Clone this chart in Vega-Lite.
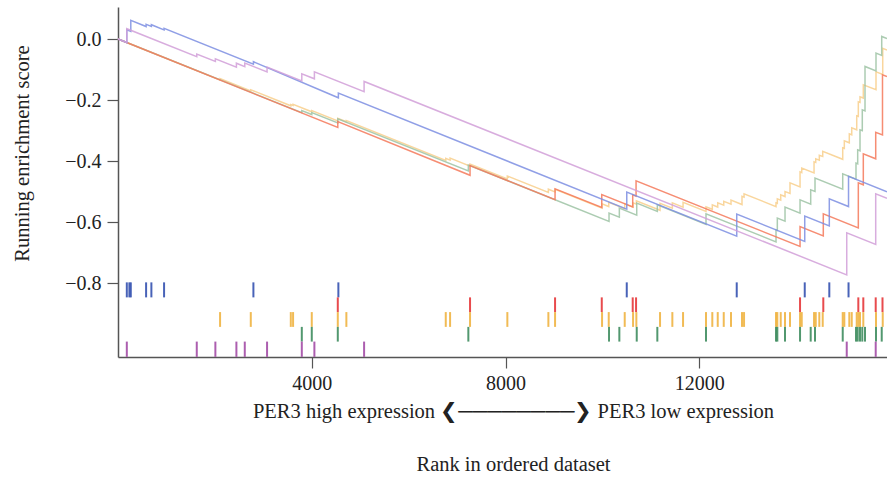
{
  "$schema": "https://vega.github.io/schema/vega-lite/v6.json",
  "width": 769,
  "height": 350,
  "autosize": {"type": "none"},
  "padding": {"left": 118, "top": 7, "right": 0, "bottom": 122},
  "config": {"font": "Liberation Serif", "view": {"stroke": null}},
  "datasets": {
    "lines": [
      {"s":"T","i":0,"x":0,"y":0},
      {"s":"T","i":1,"x":2107,"y":-0.1338},{"s":"T","i":2,"x":2107,"y":-0.1298},
      {"s":"T","i":3,"x":2741,"y":-0.1702},{"s":"T","i":4,"x":2741,"y":-0.1662},
      {"s":"T","i":5,"x":3567,"y":-0.2187},{"s":"T","i":6,"x":3567,"y":-0.2148},
      {"s":"T","i":7,"x":3614,"y":-0.2177},{"s":"T","i":8,"x":3614,"y":-0.2138},
      {"s":"T","i":9,"x":4000,"y":-0.2384},{"s":"T","i":10,"x":4000,"y":-0.2344},
      {"s":"T","i":11,"x":4537,"y":-0.2685},{"s":"T","i":12,"x":4537,"y":-0.2597},
      {"s":"T","i":13,"x":4714,"y":-0.2711},{"s":"T","i":14,"x":4714,"y":-0.2672},
      {"s":"T","i":15,"x":6766,"y":-0.3977},{"s":"T","i":16,"x":6766,"y":-0.3911},
      {"s":"T","i":17,"x":6855,"y":-0.3967},{"s":"T","i":18,"x":6855,"y":-0.3902},
      {"s":"T","i":19,"x":7267,"y":-0.4164},{"s":"T","i":20,"x":7267,"y":-0.4098},
      {"s":"T","i":21,"x":8037,"y":-0.4587},{"s":"T","i":22,"x":8037,"y":-0.4489},
      {"s":"T","i":23,"x":8884,"y":-0.5026},{"s":"T","i":24,"x":8884,"y":-0.4921},
      {"s":"T","i":25,"x":9022,"y":-0.5010},{"s":"T","i":26,"x":9022,"y":-0.4925},
      {"s":"T","i":27,"x":9992,"y":-0.5541},{"s":"T","i":28,"x":9992,"y":-0.5400},
      {"s":"T","i":29,"x":10130,"y":-0.5489},{"s":"T","i":30,"x":10130,"y":-0.5351},
      {"s":"T","i":31,"x":10460,"y":-0.5561},{"s":"T","i":32,"x":10460,"y":-0.5400},
      {"s":"T","i":33,"x":10632,"y":-0.5508},{"s":"T","i":34,"x":10632,"y":-0.5367},
      {"s":"T","i":35,"x":10700,"y":-0.5410},{"s":"T","i":36,"x":10700,"y":-0.5302},
      {"s":"T","i":37,"x":11189,"y":-0.5613},{"s":"T","i":38,"x":11189,"y":-0.5384},
      {"s":"T","i":39,"x":11443,"y":-0.5544},{"s":"T","i":40,"x":11443,"y":-0.5367},
      {"s":"T","i":41,"x":11664,"y":-0.5508},{"s":"T","i":42,"x":11664,"y":-0.5351},
      {"s":"T","i":43,"x":12138,"y":-0.5652},{"s":"T","i":44,"x":12138,"y":-0.5498},
      {"s":"T","i":45,"x":12268,"y":-0.5580},{"s":"T","i":46,"x":12268,"y":-0.5433},
      {"s":"T","i":47,"x":12380,"y":-0.5505},{"s":"T","i":48,"x":12380,"y":-0.5367},
      {"s":"T","i":49,"x":12504,"y":-0.5446},{"s":"T","i":50,"x":12504,"y":-0.5318},
      {"s":"T","i":51,"x":12654,"y":-0.5413},{"s":"T","i":52,"x":12654,"y":-0.5279},
      {"s":"T","i":53,"x":12881,"y":-0.5423},{"s":"T","i":54,"x":12881,"y":-0.5154},
      {"s":"T","i":55,"x":12923,"y":-0.5180},{"s":"T","i":56,"x":12923,"y":-0.5072},
      {"s":"T","i":57,"x":13583,"y":-0.5492},{"s":"T","i":58,"x":13583,"y":-0.5367},
      {"s":"T","i":59,"x":13610,"y":-0.5384},{"s":"T","i":60,"x":13610,"y":-0.5236},
      {"s":"T","i":61,"x":13680,"y":-0.5282},{"s":"T","i":62,"x":13680,"y":-0.5105},
      {"s":"T","i":63,"x":13769,"y":-0.5161},{"s":"T","i":64,"x":13769,"y":-0.4997},
      {"s":"T","i":65,"x":13872,"y":-0.5062},{"s":"T","i":66,"x":13872,"y":-0.4711},
      {"s":"T","i":67,"x":14079,"y":-0.4843},{"s":"T","i":68,"x":14079,"y":-0.4351},
      {"s":"T","i":69,"x":14114,"y":-0.4374},{"s":"T","i":70,"x":14114,"y":-0.4230},
      {"s":"T","i":71,"x":14368,"y":-0.4390},{"s":"T","i":72,"x":14368,"y":-0.4023},
      {"s":"T","i":73,"x":14403,"y":-0.4046},{"s":"T","i":74,"x":14403,"y":-0.3925},
      {"s":"T","i":75,"x":14477,"y":-0.3970},{"s":"T","i":76,"x":14477,"y":-0.3810},
      {"s":"T","i":77,"x":14547,"y":-0.3849},{"s":"T","i":78,"x":14547,"y":-0.3679},
      {"s":"T","i":79,"x":14960,"y":-0.3941},{"s":"T","i":80,"x":14960,"y":-0.3564},
      {"s":"T","i":81,"x":14993,"y":-0.3584},{"s":"T","i":82,"x":14993,"y":-0.3334},
      {"s":"T","i":83,"x":15096,"y":-0.3400},{"s":"T","i":84,"x":15096,"y":-0.3105},
      {"s":"T","i":85,"x":15146,"y":-0.3138},{"s":"T","i":86,"x":15146,"y":-0.2908},
      {"s":"T","i":87,"x":15249,"y":-0.2974},{"s":"T","i":88,"x":15249,"y":-0.2515},
      {"s":"T","i":89,"x":15282,"y":-0.2534},{"s":"T","i":90,"x":15282,"y":-0.2056},
      {"s":"T","i":91,"x":15317,"y":-0.2079},{"s":"T","i":92,"x":15317,"y":-0.1892},
      {"s":"T","i":93,"x":15385,"y":-0.1934},{"s":"T","i":94,"x":15385,"y":-0.1498},
      {"s":"T","i":95,"x":15647,"y":-0.1662},{"s":"T","i":96,"x":15647,"y":-0.1072},
      {"s":"T","i":97,"x":15786,"y":-0.1161},{"s":"T","i":98,"x":15786,"y":-0.0302},
      {"s":"T","i":99,"x":15874,"y":-0.0357},

      {"s":"G","i":0,"x":0,"y":0},
      {"s":"G","i":1,"x":3794,"y":-0.2410},{"s":"G","i":2,"x":3794,"y":-0.2344},
      {"s":"G","i":3,"x":4000,"y":-0.2475},{"s":"G","i":4,"x":4000,"y":-0.2410},
      {"s":"G","i":5,"x":4537,"y":-0.2751},{"s":"G","i":6,"x":4537,"y":-0.2613},
      {"s":"G","i":7,"x":7232,"y":-0.4325},{"s":"G","i":8,"x":7232,"y":-0.4128},
      {"s":"G","i":9,"x":10136,"y":-0.5974},{"s":"G","i":10,"x":10136,"y":-0.5705},
      {"s":"G","i":11,"x":10349,"y":-0.5839},{"s":"G","i":12,"x":10349,"y":-0.5541},
      {"s":"G","i":13,"x":10708,"y":-0.5770},{"s":"G","i":14,"x":10708,"y":-0.5377},
      {"s":"G","i":15,"x":11133,"y":-0.5646},{"s":"G","i":16,"x":11133,"y":-0.5433},
      {"s":"G","i":17,"x":12138,"y":-0.6072},{"s":"G","i":18,"x":12138,"y":-0.5728},
      {"s":"G","i":19,"x":13583,"y":-0.6646},{"s":"G","i":20,"x":13583,"y":-0.6252},
      {"s":"G","i":21,"x":13610,"y":-0.6269},{"s":"G","i":22,"x":13610,"y":-0.5869},
      {"s":"G","i":23,"x":13769,"y":-0.5970},{"s":"G","i":24,"x":13769,"y":-0.5508},
      {"s":"G","i":25,"x":14079,"y":-0.5705},{"s":"G","i":26,"x":14079,"y":-0.5269},
      {"s":"G","i":27,"x":14299,"y":-0.5410},{"s":"G","i":28,"x":14299,"y":-0.4941},
      {"s":"G","i":29,"x":14388,"y":-0.4997},{"s":"G","i":30,"x":14388,"y":-0.4557},
      {"s":"G","i":31,"x":14960,"y":-0.4921},{"s":"G","i":32,"x":14960,"y":-0.4416},
      {"s":"G","i":33,"x":15234,"y":-0.4590},{"s":"G","i":34,"x":15234,"y":-0.4066},
      {"s":"G","i":35,"x":15269,"y":-0.4089},{"s":"G","i":36,"x":15269,"y":-0.3630},
      {"s":"G","i":37,"x":15317,"y":-0.3662},{"s":"G","i":38,"x":15317,"y":-0.2974},
      {"s":"G","i":39,"x":15364,"y":-0.3003},{"s":"G","i":40,"x":15364,"y":-0.2318},
      {"s":"G","i":41,"x":15420,"y":-0.2354},{"s":"G","i":42,"x":15420,"y":-0.0898},
      {"s":"G","i":43,"x":15647,"y":-0.1043},{"s":"G","i":44,"x":15647,"y":-0.0459},
      {"s":"G","i":45,"x":15765,"y":-0.0534},{"s":"G","i":46,"x":15765,"y":0.0085},
      {"s":"G","i":47,"x":15874,"y":0.0016},

      {"s":"R","i":0,"x":0,"y":0},
      {"s":"R","i":1,"x":4537,"y":-0.2898},{"s":"R","i":2,"x":4537,"y":-0.2702},
      {"s":"R","i":3,"x":7267,"y":-0.4466},{"s":"R","i":4,"x":7267,"y":-0.4144},
      {"s":"R","i":5,"x":9022,"y":-0.5266},{"s":"R","i":6,"x":9022,"y":-0.4908},
      {"s":"R","i":7,"x":9986,"y":-0.5521},{"s":"R","i":8,"x":9986,"y":-0.5095},
      {"s":"R","i":9,"x":10625,"y":-0.5502},{"s":"R","i":10,"x":10625,"y":-0.5105},
      {"s":"R","i":11,"x":10694,"y":-0.5148},{"s":"R","i":12,"x":10694,"y":-0.4646},
      {"s":"R","i":13,"x":14079,"y":-0.6797},{"s":"R","i":14,"x":14079,"y":-0.6144},
      {"s":"R","i":15,"x":14559,"y":-0.6449},{"s":"R","i":16,"x":14559,"y":-0.5728},
      {"s":"R","i":17,"x":15282,"y":-0.6187},{"s":"R","i":18,"x":15282,"y":-0.4711},
      {"s":"R","i":19,"x":15385,"y":-0.4777},{"s":"R","i":20,"x":15385,"y":-0.3761},
      {"s":"R","i":21,"x":15641,"y":-0.3925},{"s":"R","i":22,"x":15641,"y":-0.3056},
      {"s":"R","i":23,"x":15781,"y":-0.3144},{"s":"R","i":24,"x":15781,"y":-0.1170},
      {"s":"R","i":25,"x":15874,"y":-0.1230},

      {"s":"B","i":0,"x":0,"y":0},
      {"s":"B","i":1,"x":182,"y":-0.0115},{"s":"B","i":2,"x":182,"y":0.0305},
      {"s":"B","i":3,"x":264,"y":0.0252},{"s":"B","i":4,"x":264,"y":0.0610},
      {"s":"B","i":5,"x":580,"y":0.0410},{"s":"B","i":6,"x":580,"y":0.0485},
      {"s":"B","i":7,"x":689,"y":0.0416},{"s":"B","i":8,"x":689,"y":0.0469},
      {"s":"B","i":9,"x":951,"y":0.0302},{"s":"B","i":10,"x":951,"y":0.0354},
      {"s":"B","i":11,"x":2795,"y":-0.0826},{"s":"B","i":12,"x":2795,"y":-0.0744},
      {"s":"B","i":13,"x":4549,"y":-0.1925},{"s":"B","i":14,"x":4549,"y":-0.1770},
      {"s":"B","i":15,"x":10502,"y":-0.5574},{"s":"B","i":16,"x":10502,"y":-0.5016},
      {"s":"B","i":17,"x":12772,"y":-0.6459},{"s":"B","i":18,"x":12772,"y":-0.5738},
      {"s":"B","i":19,"x":14176,"y":-0.6630},{"s":"B","i":20,"x":14176,"y":-0.5803},
      {"s":"B","i":21,"x":14683,"y":-0.6125},{"s":"B","i":22,"x":14683,"y":-0.5236},
      {"s":"B","i":23,"x":15080,"y":-0.5489},{"s":"B","i":24,"x":15080,"y":-0.4498},
      {"s":"B","i":25,"x":15874,"y":-0.5007},

      {"s":"P","i":0,"x":0,"y":0},
      {"s":"P","i":1,"x":182,"y":-0.0115},{"s":"P","i":2,"x":182,"y":0.0338},
      {"s":"P","i":3,"x":1626,"y":-0.0580},{"s":"P","i":4,"x":1626,"y":-0.0492},
      {"s":"P","i":5,"x":2010,"y":-0.0734},{"s":"P","i":6,"x":2010,"y":-0.0646},
      {"s":"P","i":7,"x":2444,"y":-0.0921},{"s":"P","i":8,"x":2444,"y":-0.0793},
      {"s":"P","i":9,"x":2617,"y":-0.0905},{"s":"P","i":10,"x":2617,"y":-0.0787},
      {"s":"P","i":11,"x":3077,"y":-0.1079},{"s":"P","i":12,"x":3077,"y":-0.0918},
      {"s":"P","i":13,"x":3794,"y":-0.1374},{"s":"P","i":14,"x":3794,"y":-0.1138},
      {"s":"P","i":15,"x":4054,"y":-0.1302},{"s":"P","i":16,"x":4054,"y":-0.1072},
      {"s":"P","i":17,"x":5080,"y":-0.1725},{"s":"P","i":18,"x":5080,"y":-0.1390},
      {"s":"P","i":19,"x":15043,"y":-0.7728},{"s":"P","i":20,"x":15043,"y":-0.6351},
      {"s":"P","i":21,"x":15641,"y":-0.6731},{"s":"P","i":22,"x":15641,"y":-0.5072},
      {"s":"P","i":23,"x":15874,"y":-0.5220}
    ],
    "hits": [
      {"s":"B","x":182},{"s":"B","x":235},{"s":"B","x":264},{"s":"B","x":580},{"s":"B","x":689},{"s":"B","x":951},{"s":"B","x":2795},{"s":"B","x":4549},{"s":"B","x":10502},{"s":"B","x":12772},{"s":"B","x":14176},{"s":"B","x":14683},{"s":"B","x":15080},
      {"s":"R","x":4537},{"s":"R","x":7267},{"s":"R","x":9022},{"s":"R","x":9986},{"s":"R","x":10625},{"s":"R","x":10694},{"s":"R","x":14079},{"s":"R","x":14559},{"s":"R","x":15282},{"s":"R","x":15385},{"s":"R","x":15641},{"s":"R","x":15781},
      {"s":"T","x":2107},{"s":"T","x":2741},{"s":"T","x":3567},{"s":"T","x":3614},{"s":"T","x":4000},{"s":"T","x":4537},{"s":"T","x":4714},{"s":"T","x":6766},{"s":"T","x":6855},{"s":"T","x":7267},{"s":"T","x":8037},{"s":"T","x":8884},{"s":"T","x":9022},{"s":"T","x":9992},{"s":"T","x":10130},{"s":"T","x":10460},{"s":"T","x":10632},{"s":"T","x":10700},{"s":"T","x":11189},{"s":"T","x":11443},{"s":"T","x":11664},{"s":"T","x":12138},{"s":"T","x":12268},{"s":"T","x":12380},{"s":"T","x":12504},{"s":"T","x":12654},{"s":"T","x":12881},{"s":"T","x":12923},{"s":"T","x":13583},{"s":"T","x":13610},{"s":"T","x":13680},{"s":"T","x":13769},{"s":"T","x":13872},{"s":"T","x":14079},{"s":"T","x":14114},{"s":"T","x":14368},{"s":"T","x":14403},{"s":"T","x":14477},{"s":"T","x":14547},{"s":"T","x":14960},{"s":"T","x":14993},{"s":"T","x":15096},{"s":"T","x":15146},{"s":"T","x":15249},{"s":"T","x":15282},{"s":"T","x":15317},{"s":"T","x":15385},{"s":"T","x":15647},{"s":"T","x":15786},
      {"s":"G","x":3794},{"s":"G","x":4000},{"s":"G","x":4537},{"s":"G","x":7232},{"s":"G","x":10136},{"s":"G","x":10349},{"s":"G","x":10708},{"s":"G","x":11133},{"s":"G","x":12138},{"s":"G","x":13583},{"s":"G","x":13610},{"s":"G","x":13769},{"s":"G","x":14079},{"s":"G","x":14299},{"s":"G","x":14388},{"s":"G","x":14960},{"s":"G","x":15234},{"s":"G","x":15269},{"s":"G","x":15317},{"s":"G","x":15364},{"s":"G","x":15420},{"s":"G","x":15647},{"s":"G","x":15765},
      {"s":"P","x":182},{"s":"P","x":1626},{"s":"P","x":2010},{"s":"P","x":2444},{"s":"P","x":2617},{"s":"P","x":3077},{"s":"P","x":3794},{"s":"P","x":4054},{"s":"P","x":5080},{"s":"P","x":15043},{"s":"P","x":15641}
    ]
  },
  "encoding": {
    "x": {
      "field": "x", "type": "quantitative",
      "scale": {"domain": [0, 15874], "nice": false, "zero": false},
      "axis": {
        "values": [4000, 8000, 12000], "format": "d", "grid": false,
        "domainColor": "#555", "domainWidth": 1.5, "tickColor": "#555", "tickWidth": 1.2, "tickSize": 11,
        "labelFont": "Liberation Serif", "labelFontSize": 20, "labelColor": "#222", "labelPadding": 5,
        "title": ["PER3 high expression ❮────────❯ PER3 low expression", "Rank in ordered dataset"],
        "titleFont": "Liberation Serif", "titleFontSize": 20.5, "titleFontWeight": "normal", "titleColor": "#222",
        "titleX": 395, "titleY": 44, "titleAlign": "center", "titleBaseline": "top", "titleLineHeight": 53
      }
    }
  },
  "layer": [
    {
      "data": {"name": "lines"},
      "mark": {"type": "line", "strokeWidth": 1.5, "opacity": 0.85},
      "encoding": {
        "y": {
          "field": "y", "type": "quantitative",
          "scale": {"domain": [-1.042, 0.105], "nice": false, "zero": false},
          "axis": {
            "values": [-0.8, -0.6, -0.4, -0.2, 0], "format": ".1f", "grid": false,
            "domainColor": "#555", "domainWidth": 1.5, "tickColor": "#555", "tickWidth": 1.2, "tickSize": 11,
            "labelFont": "Liberation Serif", "labelFontSize": 20, "labelColor": "#222", "labelPadding": 6,
            "title": "Running enrichment score",
            "titleFont": "Liberation Serif", "titleFontSize": 20.5, "titleFontWeight": "normal", "titleColor": "#222",
            "titleX": -96, "titleY": 146, "titleAngle": -90, "titleAlign": "center", "titleBaseline": "middle"
          }
        },
        "color": {
          "field": "s", "type": "nominal", "legend": null,
          "scale": {"domain": ["T", "G", "R", "B", "P"], "range": ["#f8cf8c", "#9dc3a5", "#f4795b", "#7d8ee2", "#d19fd8"]}
        },
        "order": {"field": "i", "type": "quantitative"}
      }
    },
    {
      "data": {"name": "hits"},
      "transform": [{"filter": "datum.s === 'B'"}],
      "mark": {"type": "rule", "strokeWidth": 2, "color": "#3552b0", "opacity": 0.9},
      "encoding": {"y": {"datum": -0.7974}, "y2": {"datum": -0.8466}}
    },
    {
      "data": {"name": "hits"},
      "transform": [{"filter": "datum.s === 'R'"}],
      "mark": {"type": "rule", "strokeWidth": 2, "color": "#e5373a", "opacity": 0.9},
      "encoding": {"y": {"datum": -0.8466}, "y2": {"datum": -0.8948}}
    },
    {
      "data": {"name": "hits"},
      "transform": [{"filter": "datum.s === 'T'"}],
      "mark": {"type": "rule", "strokeWidth": 2, "color": "#f0b443", "opacity": 0.9},
      "encoding": {"y": {"datum": -0.8948}, "y2": {"datum": -0.9433}}
    },
    {
      "data": {"name": "hits"},
      "transform": [{"filter": "datum.s === 'G'"}],
      "mark": {"type": "rule", "strokeWidth": 2, "color": "#3f8d5f", "opacity": 0.9},
      "encoding": {"y": {"datum": -0.9433}, "y2": {"datum": -0.9915}}
    },
    {
      "data": {"name": "hits"},
      "transform": [{"filter": "datum.s === 'P'"}],
      "mark": {"type": "rule", "strokeWidth": 2, "color": "#a34ca6", "opacity": 0.9},
      "encoding": {"y": {"datum": -0.9915}, "y2": {"datum": -1.0416}}
    }
  ]
}
